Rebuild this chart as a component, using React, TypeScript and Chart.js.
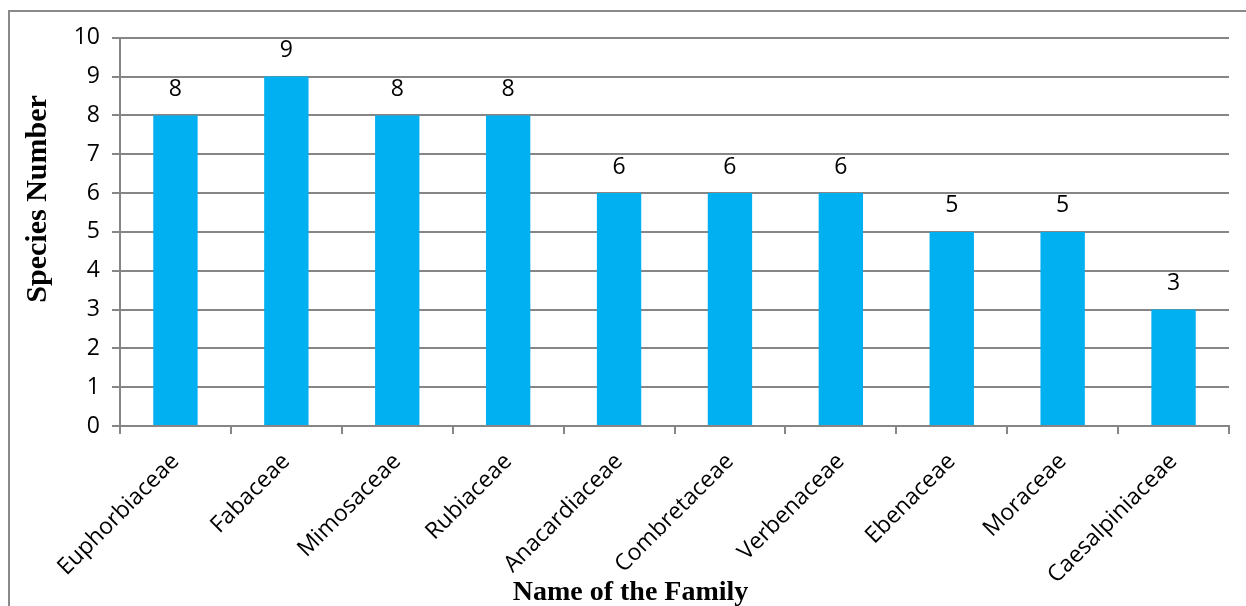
import React, { useEffect, useRef } from "react";
import { Chart, registerables } from "chart.js";

Chart.register(...registerables);

const families = [
  "Euphorbiaceae",
  "Fabaceae",
  "Mimosaceae",
  "Rubiaceae",
  "Anacardiaceae",
  "Combretaceae",
  "Verbenaceae",
  "Ebenaceae",
  "Moraceae",
  "Caesalpiniaceae",
];
const speciesCounts = [8, 9, 8, 8, 6, 6, 6, 5, 5, 3];
const yTitle = "Species Number";
const xTitle = "Name of the Family";

const GRID = "#868686";
const BAR = "#00B0F0";
const TICK_FONT = { family: "'Open Sans', sans-serif", size: 23 };
const TITLE_FAMILY = "'Liberation Serif', 'Times New Roman', serif";

const valueLabels = {
  id: "valueLabels",
  afterDatasetsDraw(chart: any) {
    const ctx = chart.ctx;
    const meta = chart.getDatasetMeta(0);
    ctx.save();
    ctx.font = `${TICK_FONT.size}px ${TICK_FONT.family}`;
    ctx.fillStyle = "#000";
    ctx.textAlign = "center";
    ctx.textBaseline = "middle";
    meta.data.forEach((el: any, i: number) => {
      ctx.fillText(String(speciesCounts[i]), el.x, el.y - 26);
    });
    ctx.restore();
  },
};

const axisTitles = {
  id: "axisTitles",
  afterDraw(chart: any) {
    const ctx = chart.ctx;
    const area = chart.chartArea;
    ctx.save();
    ctx.fillStyle = "#000";
    ctx.textAlign = "center";
    ctx.textBaseline = "middle";
    ctx.font = `bold 30px ${TITLE_FAMILY}`;
    ctx.translate(28, (area.top + area.bottom) / 2 - 33);
    ctx.rotate(-Math.PI / 2);
    ctx.fillText(yTitle, 0, 0);
    ctx.restore();
    ctx.save();
    ctx.fillStyle = "#000";
    ctx.textAlign = "center";
    ctx.textBaseline = "middle";
    ctx.font = `bold 28px ${TITLE_FAMILY}`;
    ctx.fillText(xTitle, (area.left + area.right) / 2 - 44, chart.height - 13);
    ctx.restore();
  },
};

export default function App() {
  const ref = useRef<HTMLCanvasElement>(null);
  useEffect(() => {
    if (!ref.current) return;
    const chart = new Chart(ref.current, {
      type: "bar",
      data: {
        labels: families,
        datasets: [
          {
            data: speciesCounts,
            backgroundColor: BAR,
            borderWidth: 0,
            barPercentage: 0.4,
            categoryPercentage: 1,
          },
        ],
      },
      options: {
        animation: false,
        responsive: false,
        maintainAspectRatio: false,
        layout: { padding: { top: 25, right: 17, left: 0, bottom: 0 } },
        plugins: {
          legend: { display: false },
          tooltip: { enabled: false },
        },
        scales: {
          x: {
            grid: {
              display: true,
              drawOnChartArea: false,
              drawTicks: true,
              tickLength: 8,
              color: GRID,
              lineWidth: 2,
              offset: true,
            },
            border: { display: true, color: GRID, width: 2 },
            ticks: {
              color: "#000",
              font: TICK_FONT,
              maxRotation: 45,
              minRotation: 45,
              padding: 14,
              autoSkip: false,
            },
            afterFit(scale: any) {
              scale.height = 180;
            },
          },
          y: {
            min: 0,
            max: 10,
            ticks: {
              stepSize: 1,
              color: "#000",
              font: TICK_FONT,
              padding: 12,
            },
            grid: {
              color: GRID,
              lineWidth: 2,
              tickLength: 8,
              drawTicks: true,
            },
            border: { display: true, color: GRID, width: 2 },
            afterFit(scale: any) {
              scale.width = 110;
            },
          },
        },
      },
      plugins: [valueLabels, axisTitles],
    });
    return () => chart.destroy();
  }, []);

  return (
    <div
      style={{
        position: "absolute",
        left: 8,
        top: 10,
        width: 1238,
        height: 596,
        borderTop: "2px solid #898989",
        borderLeft: "2px solid #898989",
        background: "#fff",
      }}
    >
      <canvas ref={ref} width={1236} height={594} style={{ display: "block", width: 1236, height: 594 }} />
    </div>
  );
}
